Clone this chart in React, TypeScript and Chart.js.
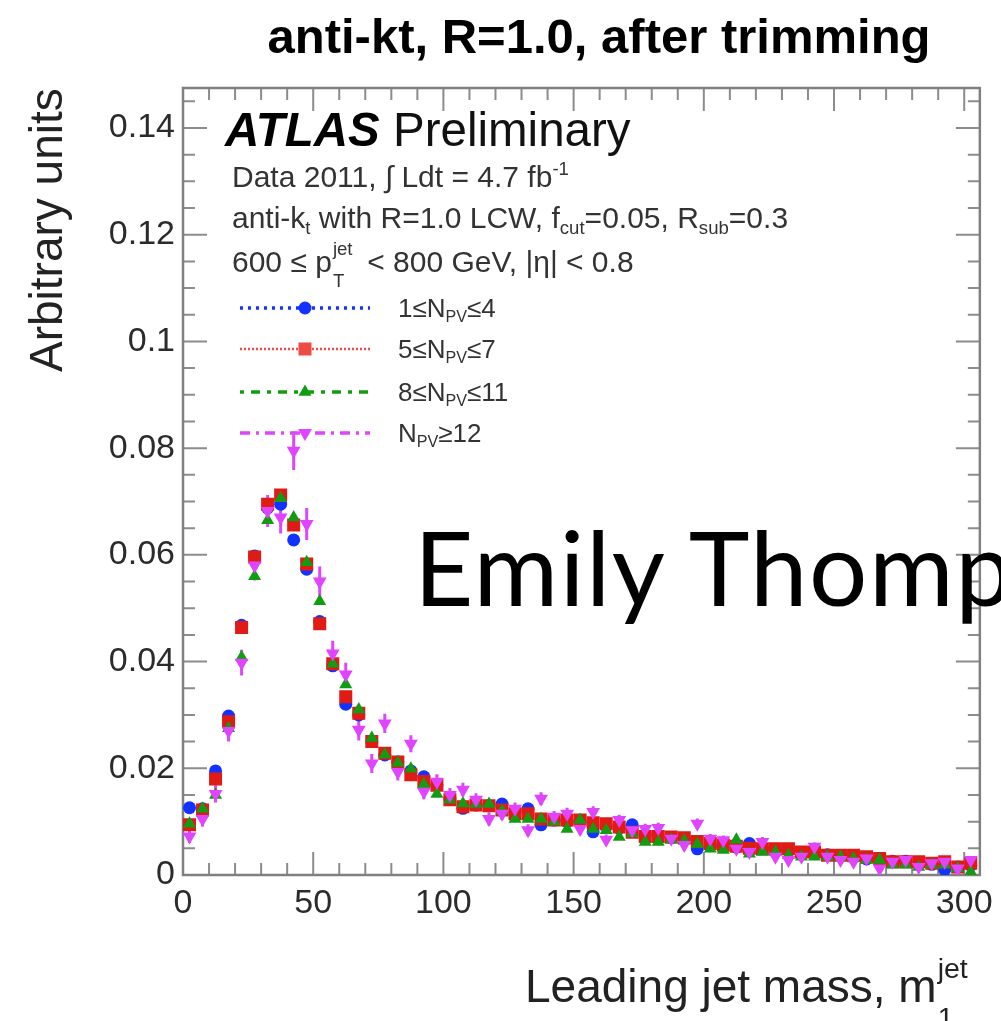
import React, { useEffect, useRef } from 'react';
import { Chart, registerables } from 'chart.js';

Chart.register(...registerables);

const FONT = '"Liberation Sans", Arial, Helvetica, sans-serif';

// Leading jet mass bin centres (GeV), 5 GeV bins
const binCenters = [
  2.5, 7.5, 12.5, 17.5, 22.5, 27.5, 32.5, 37.5, 42.5, 47.5,
  52.5, 57.5, 62.5, 67.5, 72.5, 77.5, 82.5, 87.5, 92.5, 97.5,
  102.5, 107.5, 112.5, 117.5, 122.5, 127.5, 132.5, 137.5, 142.5, 147.5,
  152.5, 157.5, 162.5, 167.5, 172.5, 177.5, 182.5, 187.5, 192.5, 197.5,
  202.5, 207.5, 212.5, 217.5, 222.5, 227.5, 232.5, 237.5, 242.5, 247.5,
  252.5, 257.5, 262.5, 267.5, 272.5, 277.5, 282.5, 287.5, 292.5, 297.5,
  302.5,
];

// 1 <= NPV <= 4
const npv1to4 = [
  0.0126, 0.0124, 0.0195, 0.0298, 0.0468, 0.0598, 0.0688, 0.0695, 0.0628, 0.0573,
  0.0475, 0.0392, 0.0320, 0.0300, 0.0250, 0.0225, 0.0212, 0.0195, 0.0184, 0.0169,
  0.0143, 0.0125, 0.0131, 0.0130, 0.0133, 0.0118, 0.0124, 0.0094, 0.0103, 0.0100,
  0.0100, 0.0081, 0.0092, 0.0088, 0.0094, 0.0075, 0.0072, 0.0070, 0.0068, 0.0049,
  0.0055, 0.0058, 0.0052, 0.0059, 0.0050, 0.0048, 0.0045, 0.0042, 0.0040, 0.0038,
  0.0036, 0.0034, 0.0030, 0.0028, 0.0026, 0.0026, 0.0023, 0.0020, 0.0010, 0.0015,
  0.0018,
];

// 5 <= NPV <= 7
const npv5to7 = [
  0.0094, 0.0122, 0.0180, 0.0287, 0.0464, 0.0596, 0.0695, 0.0712, 0.0656, 0.0583,
  0.0471, 0.0396, 0.0334, 0.0303, 0.0250, 0.0228, 0.0212, 0.0188, 0.0175, 0.0168,
  0.0141, 0.0128, 0.0131, 0.0130, 0.0122, 0.0115, 0.0115, 0.0105, 0.0103, 0.0103,
  0.0103, 0.0098, 0.0096, 0.0090, 0.0080, 0.0072, 0.0072, 0.0071, 0.0070, 0.0063,
  0.0059, 0.0056, 0.0054, 0.0050, 0.0049, 0.0049, 0.0049, 0.0043, 0.0043, 0.0037,
  0.0037, 0.0037, 0.0034, 0.0031, 0.0025, 0.0025, 0.0025, 0.0022, 0.0025, 0.0015,
  0.0022,
];

// 8 <= NPV <= 11
const npv8to11 = [
  0.0096, 0.0124, 0.0150, 0.0275, 0.0408, 0.0560, 0.0665, 0.0706, 0.0670, 0.0586,
  0.0513, 0.0396, 0.0357, 0.0310, 0.0257, 0.0226, 0.0210, 0.0199, 0.0170, 0.0152,
  0.0141, 0.0134, 0.0133, 0.0133, 0.0120, 0.0105, 0.0105, 0.0105, 0.0100, 0.0086,
  0.0103, 0.0086, 0.0084, 0.0071, 0.0078, 0.0062, 0.0062, 0.0066, 0.0064, 0.0058,
  0.0049, 0.0047, 0.0066, 0.0040, 0.0043, 0.0043, 0.0037, 0.0034, 0.0034, 0.0034,
  0.0034, 0.0031, 0.0028, 0.0028, 0.0019, 0.0019, 0.0015, 0.0019, 0.0019, 0.0012,
  0.0006,
];

// NPV >= 12
const npv12plus = [
  0.0072, 0.0105, 0.0152, 0.0270, 0.0398, 0.0580, 0.0682, 0.0670, 0.0795, 0.0658,
  0.0550, 0.0415, 0.0376, 0.0272, 0.0209, 0.0284, 0.0193, 0.0246, 0.0156, 0.0175,
  0.0150, 0.0160, 0.0141, 0.0105, 0.0115, 0.0124, 0.0084, 0.0143, 0.0109, 0.0115,
  0.0086, 0.0118, 0.0066, 0.0103, 0.0084, 0.0086, 0.0088, 0.0068, 0.0056, 0.0096,
  0.0068, 0.0065, 0.0049, 0.0043, 0.0062, 0.0034, 0.0028, 0.0034, 0.0053, 0.0034,
  0.0028, 0.0025, 0.0031, 0.0012, 0.0025, 0.0028, 0.0015, 0.0022, 0.0025, 0.0012,
  0.0028,
];

// NPV >= 12 statistical uncertainty (half-length of the vertical error bar)
const npv12plusErr = [
  0.0012, 0.0014, 0.0016, 0.0020, 0.0024, 0.0028, 0.0030, 0.0030, 0.0036, 0.0030,
  0.0028, 0.0024, 0.0022, 0.0020, 0.0018, 0.0018, 0.0016, 0.0016, 0.0014, 0.0014,
  0.0013, 0.0013, 0.0012, 0.0012, 0.0012, 0.0012, 0.0011, 0.0012, 0.0011, 0.0011,
  0.0010, 0.0011, 0.0010, 0.0010, 0.0010, 0.0010, 0.0010, 0.0009, 0.0009, 0.0010,
  0.0009, 0.0009, 0.0008, 0.0008, 0.0009, 0.0008, 0.0007, 0.0008, 0.0008, 0.0008,
  0.0007, 0.0007, 0.0007, 0.0006, 0.0007, 0.0007, 0.0006, 0.0007, 0.0007, 0.0006,
  0.0007,
];

const xTickValues = [0, 50, 100, 150, 200, 250, 300];
const xTickLabels = ['0', '50', '100', '150', '200', '250', '300'];
const yTickValues = [0, 0.02, 0.04, 0.06, 0.08, 0.1, 0.12, 0.14];
const yTickLabels = ['0', '0.02', '0.04', '0.06', '0.08', '0.1', '0.12', '0.14'];

const COLORS = {
  blue: '#1432ff',
  red: '#e01a14',
  green: '#119c11',
  magenta: '#e044ff',
};

function drawMarker(ctx: CanvasRenderingContext2D, kind: string, x: number, y: number, color: string) {
  ctx.save();
  ctx.setLineDash([]);
  ctx.fillStyle = color;
  ctx.beginPath();
  if (kind === 'circle') {
    ctx.arc(x, y, 6.5, 0, Math.PI * 2);
  } else if (kind === 'rect') {
    ctx.rect(x - 6.5, y - 6.5, 13, 13);
  } else if (kind === 'tri') {
    const r = 7.5;
    ctx.moveTo(x, y - r);
    ctx.lineTo(x + r * 0.866, y + r * 0.5);
    ctx.lineTo(x - r * 0.866, y + r * 0.5);
    ctx.closePath();
  } else {
    const r = 8;
    ctx.moveTo(x, y + r);
    ctx.lineTo(x + r * 0.866, y - r * 0.5);
    ctx.lineTo(x - r * 0.866, y - r * 0.5);
    ctx.closePath();
  }
  ctx.fill();
  ctx.restore();
}

const legendRows = [
  { y: 308, color: COLORS.blue, dash: [3, 5], width: 3.5, marker: 'circle' },
  { y: 349, color: '#f04a44', dash: [2, 2], width: 2.5, marker: 'rect' },
  { y: 392, color: COLORS.green, dash: [4, 7, 9, 7], width: 3.5, marker: 'tri' },
  { y: 433, color: COLORS.magenta, dash: [10, 6, 3, 6], width: 3.5, marker: 'tridown' },
];

const frameTicksPlugin = {
  id: 'frameTicks',
  beforeDatasetsDraw(chart: any) {
    const { ctx, chartArea: a, scales } = chart;
    const x = scales.x;
    const y = scales.y;
    ctx.save();
    ctx.strokeStyle = '#8c8c8c';
    ctx.lineWidth = 2;
    ctx.beginPath();
    for (let v = 0; v <= 300; v += 10) {
      const px = x.getPixelForValue(v);
      const len = v % 50 === 0 ? 23 : 12;
      ctx.moveTo(px, a.bottom);
      ctx.lineTo(px, a.bottom - len);
      ctx.moveTo(px, a.top);
      ctx.lineTo(px, a.top + len);
    }
    for (let k = 0; k <= 29; k++) {
      const py = y.getPixelForValue(k * 0.005);
      if (py < a.top) continue;
      const len = k % 4 === 0 ? 24 : 12;
      ctx.moveTo(a.left, py);
      ctx.lineTo(a.left + len, py);
      ctx.moveTo(a.right, py);
      ctx.lineTo(a.right - len, py);
    }
    ctx.stroke();
    ctx.lineWidth = 2.5;
    ctx.strokeStyle = '#808080';
    ctx.strokeRect(a.left, a.top, a.right - a.left, a.bottom - a.top);

    // vertical error bars of the NPV >= 12 sample
    const { left, right, top, bottom } = a;
    ctx.beginPath();
    ctx.rect(left, top, right - left, bottom - top);
    ctx.clip();
    ctx.strokeStyle = COLORS.magenta;
    ctx.lineWidth = 3;
    ctx.beginPath();
    binCenters.forEach((xv, i) => {
      const px = x.getPixelForValue(xv);
      ctx.moveTo(px, y.getPixelForValue(npv12plus[i] - npv12plusErr[i]));
      ctx.lineTo(px, y.getPixelForValue(npv12plus[i] + npv12plusErr[i]));
    });
    ctx.stroke();
    ctx.restore();
  },
};

const legendPlugin = {
  id: 'legendSamples',
  afterDatasetsDraw(chart: any) {
    const { ctx } = chart;
    legendRows.forEach((row) => {
      ctx.save();
      ctx.strokeStyle = row.color;
      ctx.lineWidth = row.width;
      ctx.setLineDash(row.dash);
      ctx.beginPath();
      ctx.moveTo(240, row.y);
      ctx.lineTo(370, row.y);
      ctx.stroke();
      ctx.restore();
      drawMarker(ctx, row.marker, 305, row.y, row.color);
    });
  },
};

function toPoints(values: number[]) {
  return binCenters.map((x, i) => ({ x, y: values[i] }));
}

const Sub = ({ children }: { children: React.ReactNode }) => (
  <span style={{ fontSize: '0.62em', verticalAlign: '-0.32em', lineHeight: 0 }}>{children}</span>
);
const Sup = ({ children }: { children: React.ReactNode }) => (
  <span style={{ fontSize: '0.62em', verticalAlign: '0.62em', lineHeight: 0 }}>{children}</span>
);

function Stack({ sup, sub, size, width }: { sup: string; sub: string; size: number; width: number }) {
  return (
    <span style={{ position: 'relative', display: 'inline-block', width, height: 0 }}>
      <span style={{ position: 'absolute', left: 1, bottom: size * 0.42, fontSize: size * 0.62, lineHeight: 1 }}>{sup}</span>
      <span style={{ position: 'absolute', left: 1, top: size * 0.02, fontSize: size * 0.62, lineHeight: 1 }}>{sub}</span>
    </span>
  );
}

function Txt({ left, baseline, size, children, style }: any) {
  return (
    <div
      style={{
        position: 'absolute',
        left,
        top: baseline - 0.8465 * size,
        fontSize: size,
        lineHeight: 1,
        fontFamily: FONT,
        whiteSpace: 'nowrap',
        ...style,
      }}
    >
      {children}
    </div>
  );
}

export default function App() {
  const canvasRef = useRef<HTMLCanvasElement | null>(null);

  useEffect(() => {
    document.body.style.margin = '0';
    document.body.style.overflow = 'hidden';
    const canvas = canvasRef.current;
    if (!canvas) return;
    const tickFont = { family: FONT, size: 34 };
    const chart = new Chart(canvas, {
      type: 'scatter',
      data: {
        datasets: [
          {
            label: '1≤NPV≤4',
            data: toPoints(npv1to4),
            pointStyle: 'circle',
            pointRadius: 6.5,
            backgroundColor: COLORS.blue,
            borderColor: COLORS.blue,
            borderWidth: 0,
            order: 4,
          },
          {
            label: '5≤NPV≤7',
            data: toPoints(npv5to7),
            pointStyle: 'rect',
            pointRadius: 9.2,
            backgroundColor: COLORS.red,
            borderColor: COLORS.red,
            borderWidth: 0,
            order: 3,
          },
          {
            label: '8≤NPV≤11',
            data: toPoints(npv8to11),
            pointStyle: 'triangle',
            pointRadius: 7.5,
            backgroundColor: COLORS.green,
            borderColor: COLORS.green,
            borderWidth: 0,
            order: 2,
          },
          {
            label: 'NPV≥12',
            data: toPoints(npv12plus),
            pointStyle: 'triangle',
            pointRotation: 180,
            pointRadius: 8,
            backgroundColor: COLORS.magenta,
            borderColor: COLORS.magenta,
            borderWidth: 0,
            order: 1,
          },
        ] as any,
      },
      options: {
        responsive: true,
        maintainAspectRatio: false,
        animation: false,
        events: [],
        layout: { padding: { top: 88, right: 21, left: 0, bottom: 0 } },
        plugins: {
          legend: { display: false },
          tooltip: { enabled: false },
          title: { display: false },
        },
        scales: {
          x: {
            type: 'linear',
            min: 0,
            max: 306,
            afterFit(s: any) {
              s.height = 146;
            },
            afterBuildTicks(s: any) {
              s.ticks = xTickValues.map((v) => ({ value: v }));
            },
            ticks: {
              autoSkip: false,
              maxRotation: 0,
              padding: 8,
              color: '#2b2b2b',
              font: tickFont,
              callback: (_v: any, i: number) => xTickLabels[i],
            },
            grid: { display: false, drawTicks: false },
            border: { display: false },
          },
          y: {
            type: 'linear',
            min: 0,
            max: 0.1475,
            afterFit(s: any) {
              s.width = 183;
            },
            afterBuildTicks(s: any) {
              s.ticks = yTickValues.map((v) => ({ value: v }));
            },
            ticks: {
              autoSkip: false,
              padding: 8,
              color: '#2b2b2b',
              font: tickFont,
              callback: (_v: any, i: number) => yTickLabels[i],
            },
            grid: { display: false, drawTicks: false },
            border: { display: false },
          },
        } as any,
      },
      plugins: [frameTicksPlugin, legendPlugin],
    });
    return () => chart.destroy();
  }, []);

  const grey = '#333';
  return (
    <div style={{ position: 'relative', width: 1001, height: 1021, overflow: 'hidden', background: '#fff' }}>
      <div style={{ position: 'absolute', left: 0, top: 0, width: 1001, height: 1021 }}>
        <canvas ref={canvasRef} />
      </div>

      {/* Title */}
      <div
        style={{
          position: 'absolute',
          left: 99,
          width: 1000,
          top: 53 - 0.8465 * 49,
          textAlign: 'center',
          fontFamily: FONT,
          fontWeight: 'bold',
          fontSize: 49,
          lineHeight: 1,
          color: '#000',
          whiteSpace: 'nowrap',
        }}
      >
        anti-kt, R=1.0, after trimming
      </div>

      {/* ATLAS label */}
      <Txt left={225} baseline={146} size={47.5} style={{ color: '#000' }}>
        <span style={{ fontWeight: 'bold', fontStyle: 'italic' }}>ATLAS</span>
        <span style={{ color: '#111' }}> Preliminary</span>
      </Txt>
      <Txt left={232} baseline={187} size={30} style={{ color: grey }}>
        Data 2011, ∫ Ldt = 4.7 fb<Sup>-1</Sup>
      </Txt>
      <Txt left={232} baseline={228} size={30} style={{ color: grey }}>
        anti-k<Sub>t</Sub> with R=1.0 LCW, f<Sub>cut</Sub>=0.05, R<Sub>sub</Sub>=0.3
      </Txt>
      <Txt left={232} baseline={272} size={30} style={{ color: grey }}>
        600 ≤ p<Stack sup="jet" sub="T" size={30} width={27} />{' '}&lt; 800 GeV, |η| &lt; 0.8
      </Txt>

      {/* Legend labels */}
      <Txt left={398} baseline={317} size={26} style={{ color: grey }}>
        1≤N<Sub>PV</Sub>≤4
      </Txt>
      <Txt left={398} baseline={358} size={26} style={{ color: grey }}>
        5≤N<Sub>PV</Sub>≤7
      </Txt>
      <Txt left={398} baseline={401} size={26} style={{ color: grey }}>
        8≤N<Sub>PV</Sub>≤11
      </Txt>
      <Txt left={398} baseline={442} size={26} style={{ color: grey }}>
        N<Sub>PV</Sub>≥12
      </Txt>

      {/* Axis titles */}
      <Txt left={525} baseline={1002} size={46} style={{ color: '#222' }}>
        Leading jet mass, m<Stack sup="jet" sub="1" size={46} width={30} />
      </Txt>
      <div
        style={{
          position: 'absolute',
          left: 23,
          top: 372,
          transform: 'rotate(-90deg)',
          transformOrigin: 'left top',
          fontFamily: FONT,
          fontSize: 46,
          lineHeight: 1,
          color: '#222',
          whiteSpace: 'nowrap',
        }}
      >
        Arbitrary units
      </div>

      {/* Watermark */}
      <div
        style={{
          position: 'absolute',
          left: 414,
          top: 606 - 0.887 * 103,
          fontFamily: 'Lato, "Open Sans", sans-serif',
          fontSize: 103,
          letterSpacing: 1.5,
          lineHeight: 1,
          color: '#000',
          whiteSpace: 'nowrap',
        }}
      >
        Emily Thomp
      </div>
    </div>
  );
}
